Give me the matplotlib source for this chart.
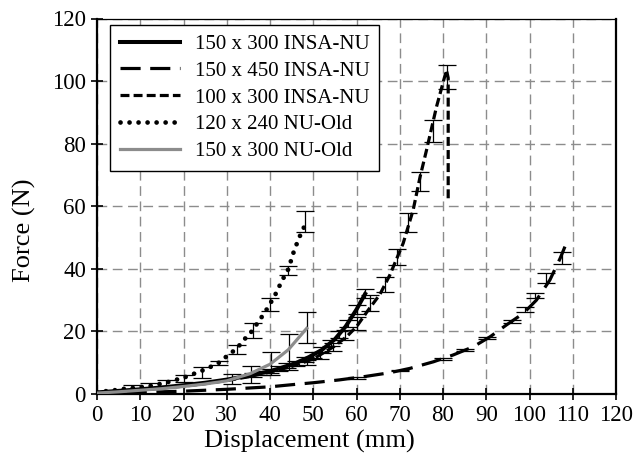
import matplotlib
matplotlib.use("Agg")
import matplotlib.pyplot as plt
import numpy as np

plt.rcParams['font.family'] = ['Liberation Serif', 'DejaVu Serif']

# ---- data ----
s1_x = [0, 5, 10, 15, 20, 25, 30, 35, 40, 42, 46, 49, 52, 55, 57.5, 60, 62]
s1_y = [0.5, 1.0, 1.5, 2.1, 2.8, 3.6, 4.6, 5.8, 7.3, 8.1, 9.9, 11.8, 14.1, 17.5, 21.6, 27.0, 32.0]
s1_ex = [36, 38, 40, 42, 44, 46, 48, 50, 52, 54, 56, 58, 60, 62]
s1_ey = [6.0, 6.6, 7.3, 8.1, 9.0, 9.9, 11.0, 12.5, 14.1, 16.2, 18.9, 22.5, 27.0, 32.0]
s1_ee = [0.6, 0.6, 0.7, 0.7, 0.8, 0.8, 0.9, 0.9, 1.0, 1.0, 1.1, 1.2, 1.3, 1.4]

s2_x = [0, 10, 20, 30, 40, 46, 50, 56, 62, 67.7, 72.4, 77.8, 82.4, 87, 90.9, 94.7, 98.6, 101.6, 104.7, 107.1, 108.2]
s2_y = [0.2, 0.5, 0.9, 1.5, 2.3, 3.1, 3.6, 4.5, 5.6, 6.8, 8.2, 10.3, 12.5, 15.1, 18.3, 22.1, 25.8, 30.0, 36.4, 43.4, 47.1]
s2_ex = [60, 70, 80, 85, 90.1, 95.9, 99.0, 101.3, 103.9, 107.4]
s2_ey = [5.2, 7.5, 11.2, 14.0, 18.0, 23.2, 27.0, 31.5, 37.0, 43.6]
s2_ee = [0.3, 0.3, 0.3, 0.3, 0.3, 0.4, 0.7, 0.9, 1.6, 1.9]

s3_x = [0, 5, 10, 15, 20, 25, 30, 35, 40, 45, 50, 54.7, 57.7, 60, 62.7, 65.4, 67.7, 70.8, 73.1, 74.7, 76.2, 78.5, 80.8, 81.2, 81.2]
s3_y = [0.4, 0.8, 1.3, 1.9, 2.5, 3.3, 4.3, 5.5, 7.0, 8.8, 11.2, 15.1, 18.3, 21.5, 26.8, 31.8, 38.0, 48.2, 58.8, 69.4, 78.0, 91.8, 103.5, 101.0, 62.0]
s3_ex = [48.5, 51.5, 54.5, 57.3, 60.0, 63.1, 66.6, 69.3, 72.0, 74.7, 77.6, 81.0]
s3_ey = [10.2, 12.3, 15.0, 18.9, 22.6, 29.0, 35.1, 43.7, 54.7, 67.9, 84.1, 101.3]
s3_ee = [0.8, 1.0, 1.2, 1.6, 2.1, 2.6, 2.4, 2.5, 3.0, 2.9, 3.5, 3.7]

s4_x = [0, 2, 4, 6, 8, 10, 12.1, 14.2, 16.1, 18.2, 20.2, 22.1, 24.2, 26.3, 28.3, 30.2, 32.3, 34.1, 35.9, 37.3, 38.7, 40.0, 41.1, 42.1, 43.2, 44.2, 44.9, 45.5, 46.3, 47.1, 48.1]
s4_y = [0.5, 0.9, 1.2, 1.6, 1.9, 2.2, 2.5, 3.1, 3.7, 4.5, 5.3, 6.3, 7.4, 8.7, 10.1, 12.3, 14.5, 17.5, 20.2, 23.1, 25.8, 28.8, 31.4, 34.3, 37.3, 39.8, 42.8, 45.5, 48.4, 51.1, 54.0]
s4_ex = [8.1, 12.0, 16.0, 20.0, 24.2, 28.3, 32.3, 36.0, 40.0, 44.2, 48.1]
s4_ey = [2.0, 2.6, 3.6, 5.0, 6.9, 10.0, 14.2, 20.4, 28.6, 39.5, 55.2]
s4_ee = [0.9, 1.0, 1.0, 1.2, 1.8, 0.7, 1.5, 2.4, 2.0, 1.5, 3.3]

s5_x = [0, 5, 10, 15, 20, 25, 30, 35.4, 40, 44.2, 48.5]
s5_y = [0.3, 0.7, 1.2, 1.7, 2.4, 3.2, 4.2, 6.5, 9.5, 14.1, 21.0]
s5_ex = [31.1, 35.5, 40.2, 44.4, 48.5]
s5_ey = [4.8, 6.3, 9.8, 13.5, 21.2]
s5_ee = [1.5, 2.7, 3.7, 5.8, 5.0]

labels = ['150 x 300 INSA-NU', '150 x 450 INSA-NU', '100 x 300 INSA-NU',
          '120 x 240 NU-Old', '150 x 300 NU-Old']

x_ticks = list(range(0, 121, 10))
y_ticks = list(range(0, 121, 20))

# ---- figure ----
fig = plt.figure(figsize=(6.34, 4.66), dpi=100)
ax = fig.add_axes([97/634, 1 - 394/466, (616-97)/634, (394-18.5)/466])

lw = 2.3
ebkw = dict(fmt='none', ecolor='black', elinewidth=0.9, capsize=6.5, capthick=0.9, zorder=4)

ax.errorbar(s1_ex, s1_ey, yerr=s1_ee, **ebkw)
ax.errorbar(s2_ex, s2_ey, yerr=s2_ee, **ebkw)
ax.errorbar(s3_ex, s3_ey, yerr=s3_ee, **ebkw)
ax.errorbar(s4_ex, s4_ey, yerr=s4_ee, **ebkw)
ax.errorbar(s5_ex, s5_ey, yerr=s5_ee, **ebkw)

ax.plot(s1_x, s1_y, color='black', lw=lw + 0.6, ls='-', label=labels[0], zorder=5)
ax.plot(s2_x, s2_y, color='black', lw=lw, ls=(0, (6.3, 3.0)), label=labels[1], zorder=5)
ax.plot(s3_x, s3_y, color='black', lw=lw, ls=(0, (2.8, 1.3)), label=labels[2], zorder=5)
ax.plot(s4_x, s4_y, color='black', lw=3.4, ls=(0, (0.01, 1.9)), dash_capstyle='round',
        label=labels[3], zorder=5)
ax.plot(s5_x, s5_y, color='#8c8c8c', lw=lw, ls='-', label=labels[4], zorder=5)

ax.set_xlim(0, 120)
ax.set_ylim(0, 120)
ax.set_xticks(x_ticks)
ax.set_yticks(y_ticks)
ax.tick_params(direction='inout', length=8, width=1.2, labelsize=16.5, colors='black', pad=4)
ax.grid(True, color='#8c8c8c', ls=(0, (7, 4)), lw=1.0)
ax.set_axisbelow(True)

for side in ['left', 'bottom', 'right']:
    ax.spines[side].set_linewidth(1.6)
ax.spines['top'].set_linewidth(0.9)

ax.set_xlabel('Displacement (mm)', fontsize=19)
ax.set_ylabel('Force (N)', fontsize=19)
ax.xaxis.set_label_coords(0.41, -0.095)
ax.yaxis.set_label_coords(-0.118, 0.435)

leg = ax.legend(loc='upper left', bbox_to_anchor=(0.026, 0.983), fontsize=15,
                frameon=True, fancybox=False, framealpha=1, edgecolor='black',
                handlelength=2.9, handletextpad=0.7, labelspacing=0.35,
                borderpad=0.45, borderaxespad=0)
leg.get_frame().set_linewidth(1.0)
leg.set_zorder(10)

fig.savefig('out.png', dpi=100)
